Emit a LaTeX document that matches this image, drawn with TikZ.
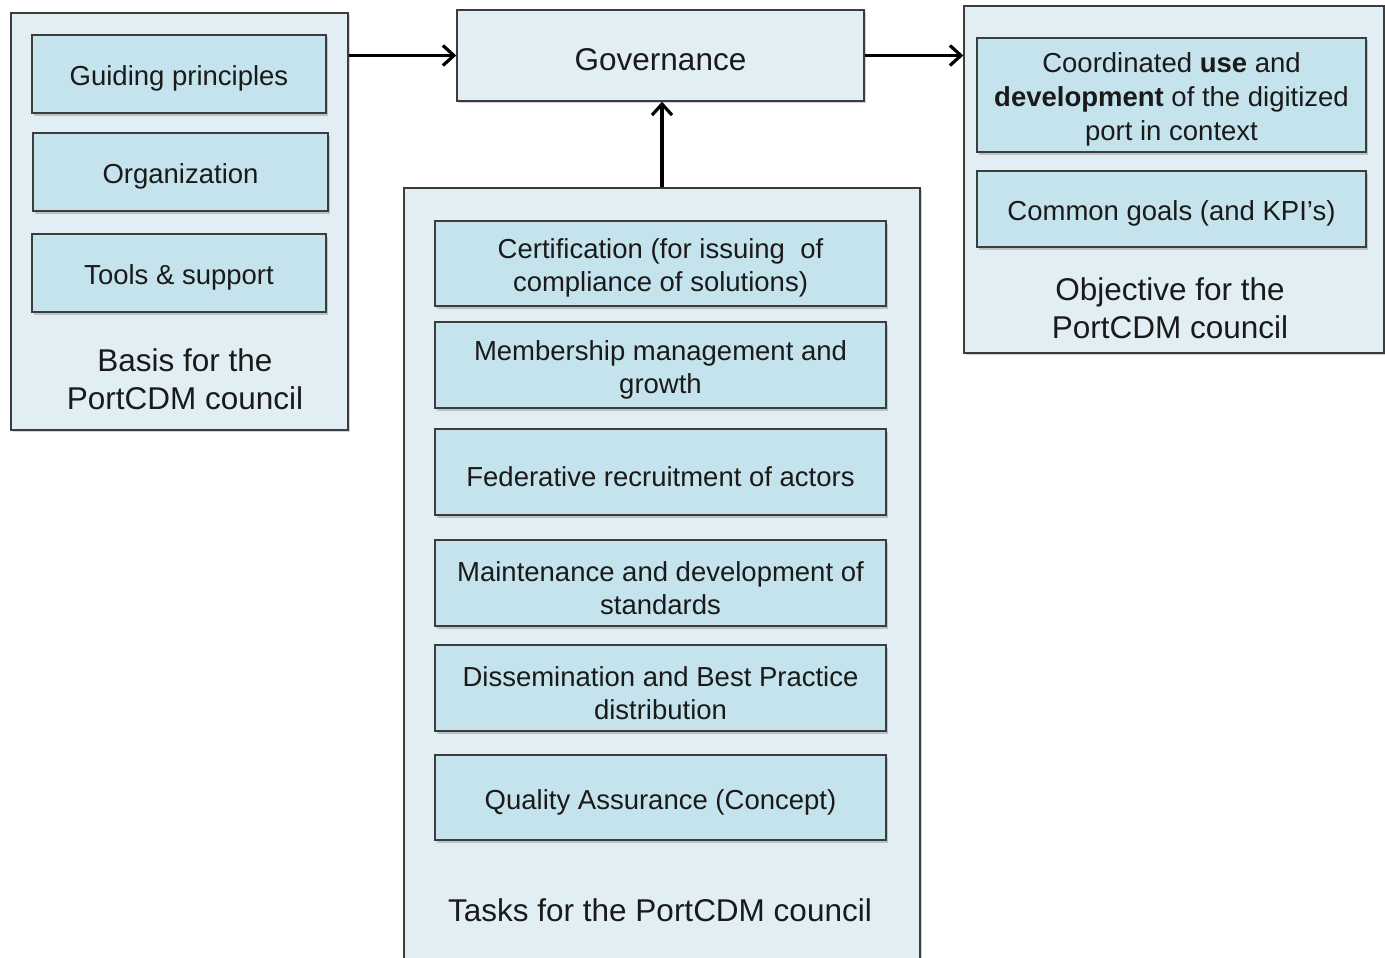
\documentclass[tikz,border=0pt]{standalone}
\usepackage{fontspec}
\setmainfont{Liberation Sans}
\usetikzlibrary{arrows.meta,shadows}
\definecolor{outerfill}{HTML}{E1EFF4}
\definecolor{innerfill}{HTML}{C5E3EC}
\definecolor{edge}{HTML}{3C3C3C}
\definecolor{txt}{HTML}{1A1A1A}
\newcommand\lowr{\rule{0pt}{29.5pt}}
\tikzset{
  panel/.style={draw=edge, line width=1.4pt, fill=outerfill, inner sep=0pt,
    drop shadow={shadow xshift=1.5pt, shadow yshift=-2pt, opacity=0.35}},
  item/.style={draw=edge, line width=1.4pt, fill=innerfill, inner sep=0pt,
    align=center, text=txt, font=\fontsize{27.5}{33}\selectfont,
    drop shadow={shadow xshift=1.5pt, shadow yshift=-2.5pt, opacity=0.4}},
  heading/.style={align=center, text=txt, font=\fontsize{31.5}{38}\selectfont, inner sep=0pt},
  arr/.style={line width=3.5pt, draw=black, -{Straight Barb[length=11pt,width=20pt,line width=3.2pt]}}
}
\begin{document}
\begin{tikzpicture}[x=1pt,y=-1pt]
\useasboundingbox (0,0) rectangle (1385,958);
\fill[white] (0,0) rectangle (1385,958);
% left panel
\node[panel, minimum width=337pt, minimum height=417pt] (left) at (179.5,221.5) {};
\node[item, minimum width=294pt, minimum height=78pt] (guide) at (179,74) {\lowr Guiding principles};
\node[item, minimum width=295pt, minimum height=78pt] (org) at (180.5,172) {\lowr Organization};
\node[item, minimum width=294pt, minimum height=78pt] (tools) at (179,273) {\lowr Tools \& support};
\node[heading] (basis) at (185,379) {Basis for the\\PortCDM council};
% governance
\node[panel, minimum width=407pt, minimum height=91pt, text=txt, font=\fontsize{31.5}{38}\selectfont] (gov) at (660.5,55.5) {\rule{0pt}{30pt}Governance};
% right panel
\node[panel, minimum width=420pt, minimum height=347pt] (right) at (1174,179.5) {};
\node[item, minimum width=389pt, minimum height=114pt, font=\fontsize{27.5}{34}\selectfont] (coord) at (1171.5,95) {\lowr Coordinated \textbf{use} and\\\textbf{development} of the digitized\\port in context};
\node[item, minimum width=389pt, minimum height=76pt] (goals) at (1171.5,209) {\lowr Common goals (and KPI’s)};
\node[heading] (objective) at (1170,308) {Objective for the\\PortCDM council};
% tasks panel
\node[panel, minimum width=516pt, minimum height=782pt] (tasks) at (662,579) {};
\node[item, minimum width=451pt, minimum height=85pt] (cert) at (660.5,263.5) {\lowr Certification (for issuing~ of\\compliance of solutions)};
\node[item, minimum width=451pt, minimum height=86pt] (member) at (660.5,365) {\lowr Membership management and\\growth};
\node[item, minimum width=451pt, minimum height=86pt] (fed) at (660.5,472) {\lowr Federative recruitment of actors};
\node[item, minimum width=451pt, minimum height=86pt] (maint) at (660.5,583) {\lowr Maintenance and development of\\standards};
\node[item, minimum width=451pt, minimum height=86pt] (diss) at (660.5,688) {\lowr Dissemination and Best Practice\\distribution};
\node[item, minimum width=451pt, minimum height=85pt] (qa) at (660.5,797.5) {\lowr Quality Assurance (Concept)};
\node[heading] (taskslabel) at (660,910) {Tasks for the PortCDM council};
% connectors
\draw[arr] (left.east |- gov.west) -- (gov.west);
\draw[arr] (gov.east) -- (right.west |- gov.east);
\draw[arr] (tasks.north) -- (tasks.north |- gov.south);
\end{tikzpicture}
\end{document}
